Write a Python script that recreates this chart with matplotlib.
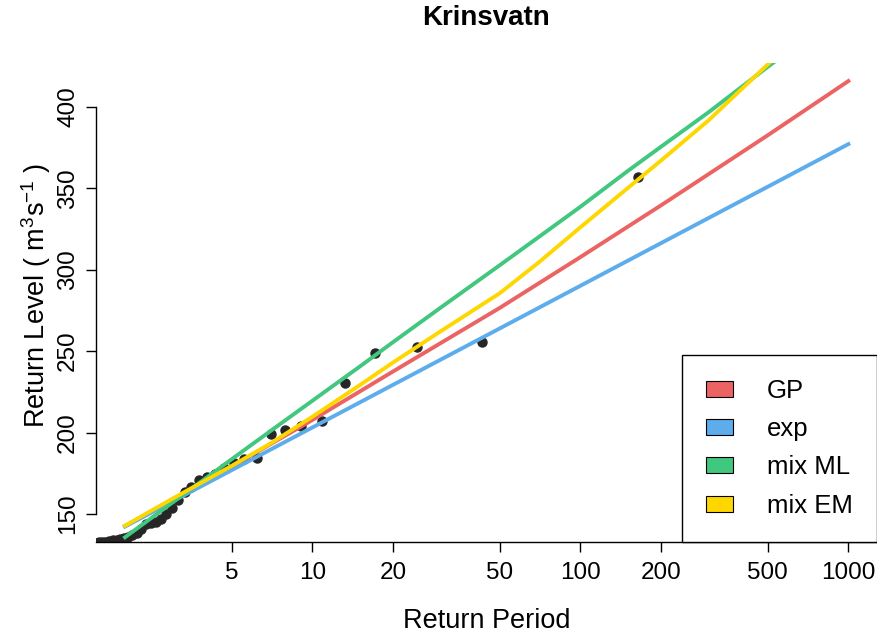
import numpy as np
import matplotlib
matplotlib.use("Agg")
import matplotlib.pyplot as plt
from matplotlib.patches import Patch
from matplotlib.ticker import NullLocator, FixedLocator

plt.rcParams['font.family'] = ['Liberation Sans', 'DejaVu Sans']
plt.rcParams['mathtext.fontset'] = 'custom'
plt.rcParams['mathtext.rm'] = 'Liberation Sans'

# observed exceedances (return period in years, level in m3/s)
obs_period = [164, 42.8, 24.6, 17.2, 13.2, 10.9, 9.1, 7.9, 7.0, 6.2, 5.56,
              5.09, 4.68, 4.33, 4.03, 3.77, 3.54, 3.34, 3.16, 3.00, 2.85,
              2.72, 2.60, 2.49, 2.39, 2.29, 2.21, 2.13, 2.05, 1.98, 1.92,
              1.86, 1.80, 1.74, 1.69, 1.64, 1.60, 1.56]
obs_level = [357.0, 255.5, 252.8, 249.0, 230.6, 207.2, 204.1, 201.4, 199.0,
             184.1, 183.9, 181.0, 178.1, 174.8, 172.8, 170.9, 166.6, 163.5,
             158.4, 153.9, 150.2, 146.7, 145.3, 144.6, 144.0, 140.6, 138.5,
             137.1, 135.8, 135.2, 134.6, 134.3, 133.8, 133.4, 133.1, 132.8,
             132.5, 132.1]

# fitted return levels
fit_period = [2, 5, 10, 20, 50, 100, 200, 500, 1000]
gp_level = [142.6, 179.1, 207.7, 237.5, 276.5, 307.7, 339.5, 382.5, 415.8]
exp_level = [142.3, 176.9, 203.1, 229.3, 263.9, 290.1, 316.3, 350.9, 377.1]

mix_period = [2, 3, 5, 7, 10, 15, 20, 30, 50, 70, 100, 150, 200, 300, 500, 700, 1000]
mixml_level = [135.7, 156.9, 183.6, 201.1, 219.5, 240.4, 255.5, 276.5, 302.7,
               320.1, 338.6, 360.5, 375.5, 396.5, 424.5, 442.5, 462.0]
mixem_level = [142.8, 159.3, 179.5, 193.4, 209.7, 229.0, 243.0, 262.0, 285.5,
               304.5, 326.0, 350.0, 367.0, 391.5, 426.0, 448.0, 471.0]

x_ticks = [5, 10, 20, 50, 100, 200, 500, 1000]
y_ticks = [150, 200, 250, 300, 350, 400]

col_gp = '#EC6363'
col_exp = '#5DADEC'
col_ml = '#41C77E'
col_em = '#FFD700'

fig = plt.figure(figsize=(8.77, 6.4), dpi=100)
ax = fig.add_axes([96 / 877, 98 / 640, 781 / 877, 479 / 640])

ax.plot(obs_period, obs_level, 'o', ms=6.5, color='#262626', zorder=2)
ax.plot(fit_period, gp_level, color=col_gp, lw=2.8, zorder=3)
ax.plot(fit_period, exp_level, color=col_exp, lw=2.8, zorder=3)
ax.plot(mix_period, mixml_level, color=col_ml, lw=2.8, zorder=3)
ax.plot(mix_period, mixem_level, color=col_em, lw=2.8, zorder=3)

ax.set_xscale('log')
ax.set_xlim(1.559, 1279)
ax.set_ylim(132.8, 426.9)

ax.xaxis.set_major_locator(FixedLocator(x_ticks))
ax.xaxis.set_minor_locator(NullLocator())
ax.set_xticklabels([str(t) for t in x_ticks])
ax.set_yticks(y_ticks)
ax.set_yticklabels([str(t) for t in y_ticks])

for s in ['top', 'right']:
    ax.spines[s].set_visible(False)
ax.spines['left'].set_bounds(150, 400)
for s in ['left', 'bottom']:
    ax.spines[s].set_linewidth(1.0)

ax.tick_params(axis='both', length=7.2, width=1.0, labelsize=17.5)
ax.tick_params(axis='x', pad=7.5)
ax.tick_params(axis='y', pad=5, labelrotation=90)
for lbl in ax.get_yticklabels():
    lbl.set_va('center')

handles = [Patch(facecolor=col_gp, edgecolor='black', lw=0.8, label='GP'),
           Patch(facecolor=col_exp, edgecolor='black', lw=0.8, label='exp'),
           Patch(facecolor=col_ml, edgecolor='black', lw=0.8, label='mix ML'),
           Patch(facecolor=col_em, edgecolor='black', lw=0.8, label='mix EM')]
leg = ax.legend(handles=handles, loc='lower right', bbox_to_anchor=(1, 0),
                borderaxespad=0, fontsize=18.5, fancybox=False,
                edgecolor='black', framealpha=1, handlelength=1.05,
                handleheight=0.58, handletextpad=1.3, labelspacing=0.55,
                borderpad=0.95)
leg.get_frame().set_linewidth(1.0)

cx = (96 + 877) / 2 / 877
fig.text(cx, 1 - 18 / 640, 'Krinsvatn', ha='center', va='center',
         fontsize=20, fontweight='bold')
fig.text(cx, 12 / 640, 'Return Period', ha='center', va='baseline',
         fontsize=19.5)
fig.text(45 / 877, 1 - 295.5 / 640,
         r'Return Level ( $\mathregular{m^3s^{-1}}$ )',
         ha='center', va='baseline', rotation=90, rotation_mode='anchor',
         fontsize=19.5)

fig.savefig('out.png', dpi=100)
